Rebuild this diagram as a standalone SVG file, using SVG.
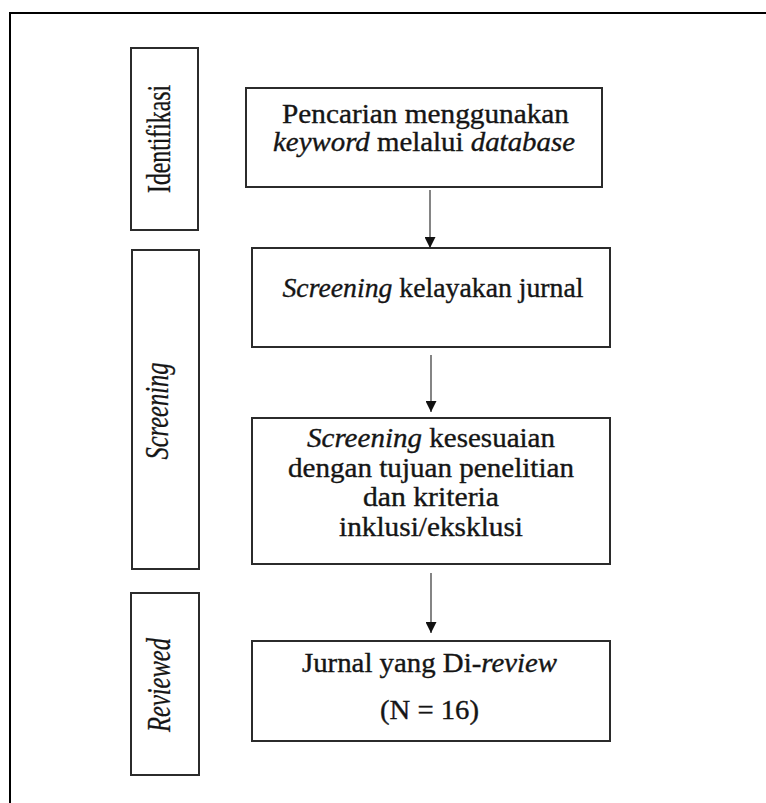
<svg xmlns="http://www.w3.org/2000/svg" width="766" height="803" viewBox="0 0 766 803">
<defs>
<marker id="ah" markerUnits="userSpaceOnUse" markerWidth="12" markerHeight="11" refX="11" refY="5.5" orient="auto">
<path d="M0,0 L11,5.5 L0,11 z" fill="#111"/>
</marker>
<style>
.box{fill:#fff;stroke:#2b2b2b;stroke-width:2}
.t{font-family:"Liberation Serif","Times New Roman",serif;font-size:27px;fill:#151515;stroke:#151515;stroke-width:0.35;text-anchor:middle}
.s{font-family:"Liberation Serif","Times New Roman",serif;font-size:33px;fill:#151515;stroke:#151515;stroke-width:0.3;text-anchor:middle}
.i{font-style:italic}
.conn{stroke:#333;stroke-width:1.2;fill:none;marker-end:url(#ah)}
</style>
</defs>
<rect width="766" height="803" fill="#fff"/>
<path d="M10,803 V13 H766" fill="none" stroke="#000" stroke-width="2"/>

<g id="stage-identifikasi">
<rect class="box" x="131" y="48" width="67" height="182"/>
<text class="s" transform="translate(170,139) rotate(-90)" textLength="108" lengthAdjust="spacingAndGlyphs">Identifikasi</text>
</g>
<g id="stage-screening">
<rect class="box" x="132" y="250" width="67" height="319"/>
<text class="s i" transform="translate(168,411) rotate(-90)" textLength="97" lengthAdjust="spacingAndGlyphs">Screening</text>
</g>
<g id="stage-reviewed">
<rect class="box" x="131" y="593" width="68" height="182"/>
<text class="s i" transform="translate(170,685) rotate(-90)" textLength="94" lengthAdjust="spacingAndGlyphs">Reviewed</text>
</g>

<g id="node-pencarian">
<rect class="box" x="246" y="88" width="356" height="99"/>
<text class="t" x="425.5" y="123" textLength="287" lengthAdjust="spacingAndGlyphs">Pencarian menggunakan</text>
<text class="t" x="424" y="151" textLength="302" lengthAdjust="spacingAndGlyphs"><tspan class="i">keyword</tspan> melalui <tspan class="i">database</tspan></text>
</g>
<g id="node-kelayakan">
<rect class="box" x="252" y="248" width="358" height="99"/>
<text class="t" x="433" y="297" textLength="301" lengthAdjust="spacingAndGlyphs"><tspan class="i">Screening</tspan> kelayakan jurnal</text>
</g>
<g id="node-kesesuaian">
<rect class="box" x="252" y="418" width="358" height="146"/>
<text class="t" x="431" y="447" textLength="248" lengthAdjust="spacingAndGlyphs"><tspan class="i">Screening</tspan> kesesuaian</text>
<text class="t" x="431" y="477" textLength="286" lengthAdjust="spacingAndGlyphs">dengan tujuan penelitian</text>
<text class="t" x="431" y="506" textLength="136" lengthAdjust="spacingAndGlyphs">dan kriteria</text>
<text class="t" x="431" y="536" textLength="184" lengthAdjust="spacingAndGlyphs">inklusi/eksklusi</text>
</g>
<g id="node-reviewed">
<rect class="box" x="252" y="641" width="358" height="100"/>
<text class="t" x="429.5" y="672" textLength="255" lengthAdjust="spacingAndGlyphs">Jurnal yang Di-<tspan class="i">review</tspan></text>
<text class="t" x="429.5" y="719" textLength="99" lengthAdjust="spacingAndGlyphs">(N = 16)</text>
</g>

<g id="connectors">
<line class="conn" x1="430" y1="190" x2="430" y2="248"/>
<line class="conn" x1="431" y1="355" x2="431" y2="412"/>
<line class="conn" x1="431" y1="573" x2="431" y2="633"/>
</g>
</svg>
